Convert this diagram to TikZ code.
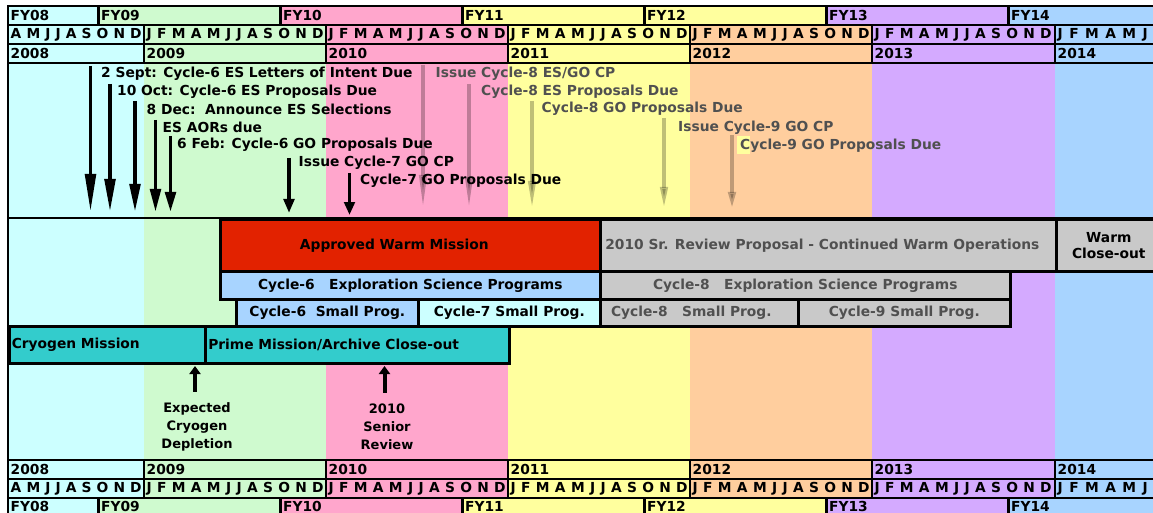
\documentclass[tikz,border=0pt]{standalone}
\usepackage{fontspec}
\setmainfont{DejaVu Sans}
\usetikzlibrary{arrows.meta}

\definecolor{yr08}{HTML}{CCFFFF}
\definecolor{yr09}{HTML}{CFFACF}
\definecolor{yr10}{HTML}{FFA6CC}
\definecolor{yr11}{HTML}{FFFF9E}
\definecolor{yr12}{HTML}{FFCE9E}
\definecolor{yr13}{HTML}{D4AAFF}
\definecolor{yr14}{HTML}{A8D4FF}
\definecolor{warmred}{HTML}{E22200}
\definecolor{cryoteal}{HTML}{33CCCC}
\definecolor{srgray}{HTML}{C9C9C9}
\definecolor{graytext}{HTML}{505050}

\newcommand{\tlfont}{\fontsize{13.8}{16}\selectfont\bfseries}

\tikzset{
  cell/.style={draw=black,line width=2.6pt},
  hdr/.style={anchor=west,inner sep=0pt,font=\tlfont},
  bar/.style={draw=black,line width=2.6pt,anchor=north west,inner sep=0pt,font=\tlfont,align=center},
  evt/.style={anchor=west,inner sep=0pt,font=\tlfont},
  later/.style={evt,text=graytext},
  due/.style={line width=3.8pt,-{Triangle[length=#1,width=10.5pt]}},
  cpgray/.style={line width=4pt,draw=black,draw opacity=0.25,fill opacity=0.25,-{Triangle[length=#1,width=7pt]}},
  rise/.style={line width=4pt,-{Triangle[length=8pt,width=11pt]}},
  note/.style={inner sep=0pt,font=\fontsize{13}{18}\selectfont\bfseries,align=center}
}

\begin{document}
\begin{tikzpicture}[x=1pt,y=-1pt]
\useasboundingbox (0,0) rectangle (1153,513);
% Year columns behind everything
\fill[yr08] (8,63) rectangle (144,460);
\fill[yr09] (144,63) rectangle (326,460);
\fill[yr10] (326,63) rectangle (508,460);
\fill[yr11] (508,63) rectangle (690,460);
\fill[yr12] (690,63) rectangle (872,460);
\fill[yr13] (872,63) rectangle (1055,460);
\fill[yr14] (1055,63) rectangle (1160,460);
\fill[yr11] (737,136) rectangle (750,154);
\draw[line width=2.6pt] (8,63) -- (8,460);
\draw[line width=2.6pt] (8,218) -- (1160,218);

% Fiscal year rows (top and bottom)
\foreach \xa/\xb/\col/\fy in {8/98.5/yr08/FY08,98.5/280.5/yr09/FY09,280.5/462.5/yr10/FY10,
    462.5/644.5/yr11/FY11,644.5/826.5/yr11/FY12,826.5/1008.5/yr13/FY13,1008.5/1165/yr14/FY14}{
  \draw[cell,fill=\col] (\xa,6) rectangle (\xb,25);
  \draw[cell,fill=\col] (\xa,498) rectangle (\xb,517);
  \node[hdr] (top-\fy) at (\xa+2.5,15.5) {\fy};
  \node[hdr] (bot-\fy) at (\xa+2.5,506.5) {\fy};
}

% Calendar year and month rows (top and bottom)
\foreach \xa/\xb/\tw/\col/\yr/\mons in {
    8/144/131/yr08/2008/{A\hfill M\hfill J\hfill J\hfill A\hfill S\hfill O\hfill N\hfill D},
    144/326/177/yr09/2009/{J\hfill F\hfill M\hfill A\hfill M\hfill J\hfill J\hfill A\hfill S\hfill O\hfill N\hfill D},
    326/508/177/yr10/2010/{J\hfill F\hfill M\hfill A\hfill M\hfill J\hfill J\hfill A\hfill S\hfill O\hfill N\hfill D},
    508/690/177/yr11/2011/{J\hfill F\hfill M\hfill A\hfill M\hfill J\hfill J\hfill A\hfill S\hfill O\hfill N\hfill D},
    690/872/177/yr12/2012/{J\hfill F\hfill M\hfill A\hfill M\hfill J\hfill J\hfill A\hfill S\hfill O\hfill N\hfill D},
    872/1055/177/yr13/2013/{J\hfill F\hfill M\hfill A\hfill M\hfill J\hfill J\hfill A\hfill S\hfill O\hfill N\hfill D},
    1055/1165/90/yr14/2014/{J\hfill F\hfill M\hfill A\hfill M\hfill J}}{
  \draw[cell,fill=\col] (\xa,25) rectangle (\xb,44);
  \draw[cell,fill=\col] (\xa,44) rectangle (\xb,63);
  \draw[cell,fill=\col] (\xa,460) rectangle (\xb,479);
  \draw[cell,fill=\col] (\xa,479) rectangle (\xb,498);
  \node[hdr,text width=\tw pt] (mtop-\yr) at (\xa+2.5,34.5) {\mons};
  \node[hdr] (ytop-\yr) at (\xa+2.5,53.5) {\yr};
  \node[hdr] (ybot-\yr) at (\xa+2.5,469.5) {\yr};
  \node[hdr,text width=\tw pt] (mbot-\yr) at (\xa+2.5,488.5) {\mons};
}

% Cycle-6/7 milestones
\coordinate (loi-top) at (90.5,66);   \coordinate (loi-end) at (90.5,212);
\coordinate (esp-top) at (110,84);    \coordinate (esp-end) at (110,212);
\coordinate (sel-top) at (135,101);   \coordinate (sel-end) at (135,212);
\coordinate (aor-top) at (155.5,120); \coordinate (aor-end) at (155.5,212);
\coordinate (gop-top) at (170.5,136); \coordinate (gop-end) at (170.5,212);
\coordinate (cp7-top) at (289,158);   \coordinate (cp7-end) at (289,213);
\coordinate (go7-top) at (349.5,173); \coordinate (go7-end) at (349.5,215);
\draw[due=38pt] (loi-top) -- (loi-end);
\draw[due=33pt] (esp-top) -- (esp-end);
\draw[due=28pt] (sel-top) -- (sel-end);
\draw[due=23pt] (aor-top) -- (aor-end);
\draw[due=20pt] (gop-top) -- (gop-end);
\draw[due=14pt] (cp7-top) -- (cp7-end);
\draw[due=13pt] (go7-top) -- (go7-end);
\node[evt] (loi) at (101,74) {2 Sept: Cycle-6 ES Letters of Intent Due};
\node[evt] (esp) at (117,92) {10 Oct: Cycle-6 ES Proposals Due};
\node[evt] (sel) at (146.5,109) {8 Dec:\ \ Announce ES Selections};
\node[evt] (aor) at (162.5,127) {ES AORs due};
\node[evt] (gop) at (177,145) {6 Feb: Cycle-6 GO Proposals Due};
\node[evt] (cp7) at (298.5,163) {Issue Cycle-7 GO CP};
\node[evt] (go7) at (360,181) {Cycle-7 GO Proposals Due};

% Cycle-8/9 milestones (proposed)
\coordinate (cp8-top) at (423,65);    \coordinate (cp8-end) at (423,211);
\coordinate (es8-top) at (469,84);    \coordinate (es8-end) at (469,211);
\coordinate (go8-top) at (532,101);   \coordinate (go8-end) at (532,211);
\coordinate (cp9-top) at (664,118);   \coordinate (cp9-end) at (664,210);
\coordinate (go9-top) at (732,135);   \coordinate (go9-end) at (732,210);
\draw[cpgray=36pt] (cp8-top) -- (cp8-end);
\draw[cpgray=34pt] (es8-top) -- (es8-end);
\draw[cpgray=30pt] (go8-top) -- (go8-end);
\draw[cpgray=23pt] (cp9-top) -- (cp9-end);
\draw[cpgray=18pt] (go9-top) -- (go9-end);
\node[later] (cp8) at (435.5,74) {Issue Cycle-8 ES/GO CP};
\node[later] (es8) at (481,92) {Cycle-8 ES Proposals Due};
\node[later] (go8) at (541.5,109) {Cycle-8 GO Proposals Due};
\node[later] (cp9) at (678,127.5) {Issue Cycle-9 GO CP};
\node[later] (go9) at (740,145.5) {Cycle-9 GO Proposals Due};

% Mission phases
\node[bar,fill=warmred,minimum width=380pt,minimum height=52pt] (warm) at (219,218) {Approved Warm Mission\hspace*{32pt}};
\node[bar,fill=srgray,text=graytext,minimum width=456pt,minimum height=52pt] (srrev) at (599,218) {2010 Sr. Review Proposal - Continued Warm Operations\hspace*{12pt}};
\node[bar,fill=srgray,minimum width=105pt,minimum height=52pt] (closeout) at (1055,218) {Warm\\Close-out};
\node[bar,fill=yr14,minimum width=380pt,minimum height=28pt] (es6) at (219,270) {Cycle-6\ \ \ Exploration Science Programs};
\node[bar,fill=srgray,text=graytext,minimum width=410pt,minimum height=28pt] (es8) at (599,270) {Cycle-8\ \ \ Exploration Science Programs};
\node[bar,fill=yr14,minimum width=182pt,minimum height=27pt] (sp6) at (235,298) {Cycle-6\ \ Small Prog.};
\node[bar,fill=yr08,minimum width=182pt,minimum height=27pt] (sp7) at (417,298) {Cycle-7 Small Prog.};
\node[bar,fill=srgray,text=graytext,minimum width=198pt,minimum height=27pt] (sp8) at (599,298) {Cycle-8\ \ \ Small Prog.\hspace*{16pt}};
\node[bar,fill=srgray,text=graytext,minimum width=212pt,minimum height=27pt] (sp9) at (797,298) {Cycle-9 Small Prog.};
\node[bar,fill=cryoteal,minimum width=196pt,minimum height=37pt,text width=191pt,align=left] (cryo) at (8,325) {Cryogen Mission};
\node[bar,fill=cryoteal,minimum width=304pt,minimum height=37pt,text width=298pt,align=left] (prime) at (204,325) {Prime Mission/Archive Close-out};

% Cryogen depletion and senior review
\node[note] (depl) at (197,427) {Expected\\Cryogen\\Depletion};
\node[note] (senior) at (387,427) {2010\\Senior\\Review};
\coordinate (depl-tip) at (195,366);
\coordinate (senior-tip) at (384.5,366);
\draw[rise] (depl.north -| depl-tip) ++(0,-11) -- (depl-tip);
\draw[rise] (senior.north -| senior-tip) ++(0,-11) -- (senior-tip);
\end{tikzpicture}
\end{document}
